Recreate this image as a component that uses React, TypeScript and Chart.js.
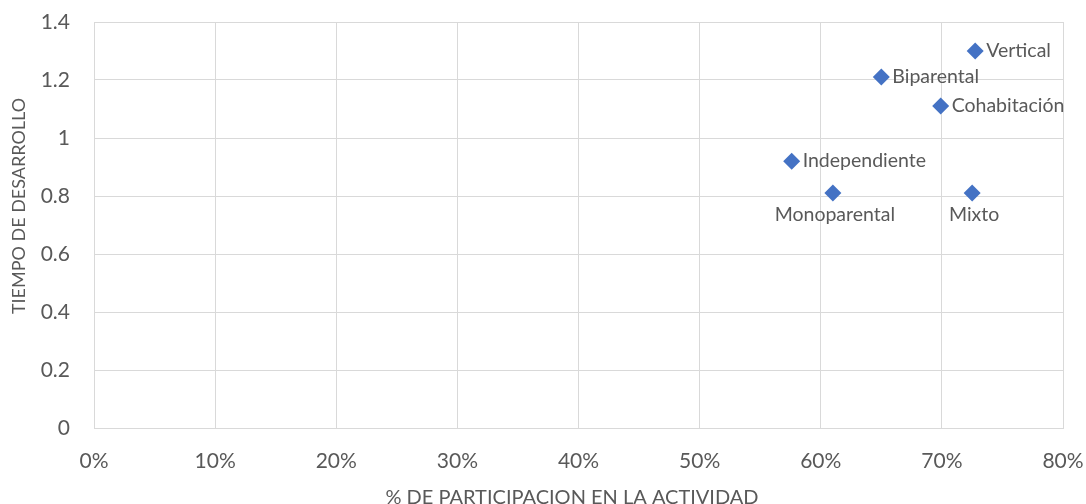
import React, { useEffect, useRef } from "react";
import { Chart, registerables } from "chart.js";

Chart.register(...registerables);

const pointLabels = ["Vertical", "Biparental", "Cohabitación", "Independiente", "Monoparental", "Mixto"];
const participation = [0.7275, 0.65, 0.699, 0.576, 0.61, 0.725];
const devTime = [1.3, 1.21, 1.11, 0.92, 0.81, 0.81];
const labelPlacement = ["right", "right", "right", "right", "below", "below"];
const xTitle = "% DE PARTICIPACION EN LA ACTIVIDAD";
const yTitle = "TIEMPO DE DESARROLLO";

const FONT = "Lato, 'Open Sans', sans-serif";
const TEXT = "#595959";
const GRID = "#d9d9d9";
const BLUE = "#4472C4";

export default function App() {
  const ref = useRef<HTMLCanvasElement>(null);
  useEffect(() => {
    const canvas = ref.current!;
    const labelPlugin = {
      id: "pointLabels",
      afterDatasetsDraw(chart: any) {
        const ctx = chart.ctx;
        const meta = chart.getDatasetMeta(0);
        ctx.save();
        ctx.font = `19.5px ${FONT}`;
        ctx.fillStyle = TEXT;
        meta.data.forEach((pt: any, i: number) => {
          if (labelPlacement[i] === "right") {
            ctx.textAlign = "left";
            ctx.textBaseline = "middle";
            ctx.fillText(pointLabels[i], pt.x + 11, pt.y);
          } else {
            ctx.textAlign = "center";
            ctx.textBaseline = "middle";
            ctx.fillText(pointLabels[i], pt.x + 2, pt.y + 22);
          }
        });
        ctx.restore();
      },
      afterDraw(chart: any) {
        const ctx = chart.ctx;
        ctx.save();
        ctx.fillStyle = TEXT;
        ctx.textAlign = "center";
        ctx.font = `20px ${FONT}`;
        ctx.textBaseline = "alphabetic";
        ctx.fillText(xTitle, 572, 504);
        ctx.font = `18px ${FONT}`;
        ctx.textBaseline = "middle";
        ctx.translate(19, 206);
        ctx.rotate(-Math.PI / 2);
        ctx.fillText(yTitle, 0, 0);
        ctx.restore();
      },
    };
    const zeroPad = (s: any) => {
      s.paddingTop = 0;
      s.paddingBottom = 0;
      s.paddingLeft = 0;
      s.paddingRight = 0;
    };
    const chart = new Chart(canvas, {
      type: "scatter",
      data: {
        datasets: [
          {
            data: participation.map((x, i) => ({ x, y: devTime[i] })),
            pointStyle: "rectRot",
            pointRadius: 8.5,
            pointHoverRadius: 8.5,
            backgroundColor: BLUE,
            borderColor: BLUE,
            borderWidth: 0,
          },
        ],
      },
      options: {
        animation: false,
        responsive: false,
        maintainAspectRatio: false,
        layout: { padding: { top: 22, right: 23, left: 0, bottom: 0 } },
        plugins: { legend: { display: false }, tooltip: { enabled: false } },
        scales: {
          x: {
            type: "linear",
            min: 0,
            max: 0.8,
            afterFit: (s: any) => {
              s.height = 76;
              zeroPad(s);
            },
            border: { color: GRID, width: 1 },
            grid: { color: GRID, lineWidth: 1, drawTicks: false },
            ticks: {
              stepSize: 0.1,
              padding: 21,
              color: TEXT,
              font: { family: FONT, size: 21 },
              maxRotation: 0,
              callback: (v: any) => Math.round(Number(v) * 100) + "%",
            },
          },
          y: {
            type: "linear",
            min: 0,
            max: 1.4,
            afterFit: (s: any) => {
              s.width = 94;
              zeroPad(s);
            },
            border: { color: GRID, width: 1 },
            grid: { color: GRID, lineWidth: 1, drawTicks: false },
            ticks: {
              stepSize: 0.2,
              padding: 24,
              color: TEXT,
              font: { family: FONT, size: 21 },
              callback: (v: any) => String(Math.round(Number(v) * 10) / 10),
            },
          },
        },
      },
      plugins: [labelPlugin],
    });
    return () => chart.destroy();
  }, []);
  return (
    <div style={{ position: "fixed", left: 0, top: 0, width: 1086, height: 504, background: "#fff" }}>
      <canvas ref={ref} width={1086} height={504} style={{ width: 1086, height: 504 }} />
    </div>
  );
}
